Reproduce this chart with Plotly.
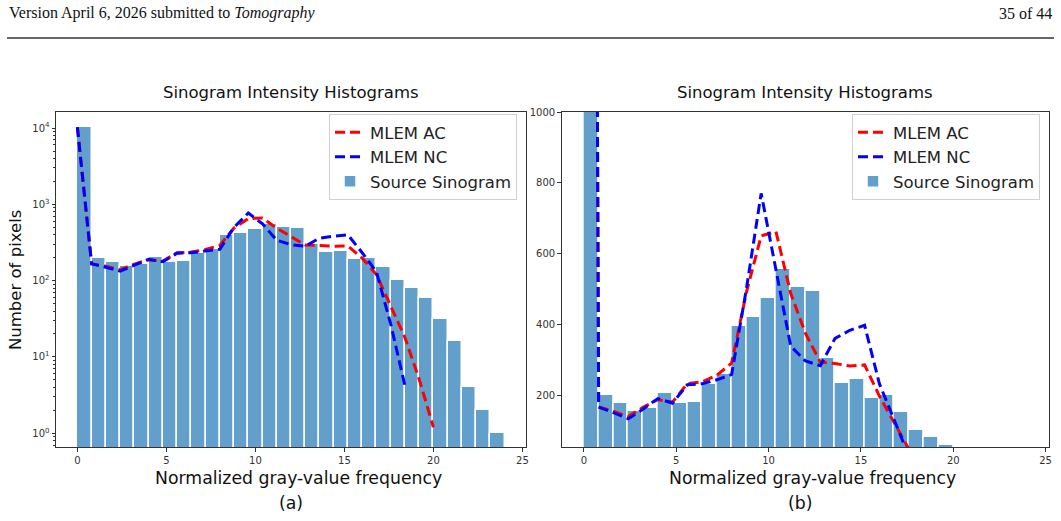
import numpy as np
import plotly.graph_objects as go

W, H = 1061, 521


def px(x):
    return x / W


def py(y):
    return 1 - y / H


# ---------------- data ----------------
bin_edges = np.linspace(0, 24, 31)          # 30 histogram bins of width 0.8
bin_width = 0.8
bin_centers = bin_edges[:-1] + bin_width / 2

source_counts = [10400, 200, 177, 155, 163, 207, 177, 180, 232, 258,
                 396, 420, 474, 557, 505, 495, 306, 234, 244, 191,
                 200, 152, 102, 80, 59, 31, 16, 4, 2, 1]

mlem_ac = [10300, 166, 154, 139, 165, 187, 180, 232, 237, 256,
           290, 490, 650, 662, 487, 374, 293, 289, 282, 285,
           197, 120, 47, 18, 5.1, 1.2]

mlem_nc = [10300, 166, 150, 133, 160, 190, 177, 229, 232, 243,
           258, 500, 770, 555, 338, 296, 283, 360, 383, 397,
           232, 130, 27, 4.2]

x_ticks = [0, 5, 10, 15, 20, 25]
log_ticks = [1, 10, 100, 1000, 10000]
log_tick_text = ["10<sup>0</sup>", "10<sup>1</sup>", "10<sup>2</sup>",
                 "10<sup>3</sup>", "10<sup>4</sup>"]
lin_ticks = [200, 400, 600, 800, 1000]

BAR = "#62a0cb"
RED = "#ff0000"
BLUE = "#0000ff"
FONT = "DejaVu Sans"
AX = "#333333"

fig = go.Figure()

for xa, ya, leg in [("x", "y", "legend"), ("x2", "y2", "legend2")]:
    fig.add_trace(go.Bar(
        x=bin_centers, y=source_counts, width=bin_width,
        marker=dict(color=BAR, line=dict(color="white", width=1.5)),
        name="Source Sinogram", xaxis=xa, yaxis=ya, legend=leg, legendrank=3,
    ))
    fig.add_trace(go.Scatter(
        x=bin_edges[:len(mlem_ac)], y=mlem_ac, mode="lines",
        line=dict(color=RED, width=3, dash="10px,5px"),
        name="MLEM AC", xaxis=xa, yaxis=ya, legend=leg, legendrank=1,
    ))
    fig.add_trace(go.Scatter(
        x=bin_edges[:len(mlem_nc)], y=mlem_nc, mode="lines",
        line=dict(color=BLUE, width=3, dash="10px,5px"),
        name="MLEM NC", xaxis=xa, yaxis=ya, legend=leg, legendrank=2,
    ))

common_x = dict(range=[-1.2, 25.2], tickvals=x_ticks, ticks="outside", ticklen=3.5,
                tickcolor=AX, showline=True, mirror=True, linecolor=AX, linewidth=1,
                showgrid=False, zeroline=False, automargin=False,
                tickfont=dict(family=FONT, size=10, color=AX))
common_y = dict(ticks="outside", ticklen=3.5, tickcolor=AX, showline=True, mirror=True,
                linecolor=AX, linewidth=1, showgrid=False, zeroline=False,
                automargin=False, tickfont=dict(family=FONT, size=10, color=AX))

minor_vals = [m * 10 ** e for e in range(-1, 5) for m in range(2, 10)]

legend_style = dict(bgcolor="rgba(255,255,255,0.85)", bordercolor="#d0d0d0", borderwidth=1,
                    font=dict(family=FONT, size=16.5, color="#222"),
                    xanchor="right", yanchor="top", y=py(114), tracegroupgap=0)

fig.update_layout(
    width=W, height=H, margin=dict(l=0, r=0, t=0, b=0),
    paper_bgcolor="white", plot_bgcolor="white",
    barmode="overlay", bargap=0,
    xaxis=dict(domain=[px(56), px(526)], anchor="y", **common_x),
    yaxis=dict(domain=[py(447), py(112)], anchor="x", type="log", range=[-0.18, 4.21],
               tickvals=log_ticks, ticktext=log_tick_text,
               minor=dict(ticks="outside", ticklen=2, tickcolor=AX, tickvals=minor_vals),
               **common_y),
    xaxis2=dict(domain=[px(561.7), px(1049.3)], anchor="y2", **common_x),
    yaxis2=dict(domain=[py(447), py(112)], anchor="x2", range=[53, 1000],
                tickvals=lin_ticks, **common_y),
    legend=dict(x=px(517), **legend_style),
    legend2=dict(x=px(1040), **legend_style),
    showlegend=True,
)

ann = dict(xref="paper", yref="paper", showarrow=False)
texts = [
    dict(text="Version April 6, 2026 submitted to <i>Tomography</i>", x=px(7), y=py(13),
         xanchor="left", yanchor="middle", font=dict(family="Liberation Serif", size=16, color="#111")),
    dict(text="35 of 44", x=px(1054), y=py(13), xanchor="right", yanchor="middle",
         font=dict(family="Liberation Serif", size=16, color="#111")),
    dict(text="Sinogram Intensity Histograms", x=px(290.5), y=py(93), xanchor="center",
         yanchor="middle", font=dict(family=FONT, size=16.5, color="#111")),
    dict(text="Sinogram Intensity Histograms", x=px(804.5), y=py(93), xanchor="center",
         yanchor="middle", font=dict(family=FONT, size=16.5, color="#111")),
    dict(text="Normalized gray-value frequency", x=px(298.5), y=py(478), xanchor="center",
         yanchor="middle", font=dict(family=FONT, size=17.3, color="#111")),
    dict(text="Normalized gray-value frequency", x=px(812), y=py(478), xanchor="center",
         yanchor="middle", font=dict(family=FONT, size=17.3, color="#111")),
    dict(text="(a)", x=px(291), y=py(503), xanchor="center", yanchor="middle",
         font=dict(family=FONT, size=17.3, color="#111")),
    dict(text="(b)", x=px(800), y=py(503), xanchor="center", yanchor="middle",
         font=dict(family=FONT, size=17.3, color="#111")),
    dict(text="Number of pixels", x=px(15), y=py(280), xanchor="center", yanchor="middle",
         textangle=-90, font=dict(family=FONT, size=16.5, color="#111")),
]
fig.update_layout(annotations=[{**ann, **t} for t in texts])

fig.add_shape(type="line", xref="paper", yref="paper", x0=px(7), x1=px(1054),
              y0=py(38), y1=py(38), line=dict(color="#333", width=1.5))

fig.write_html("out.html")
